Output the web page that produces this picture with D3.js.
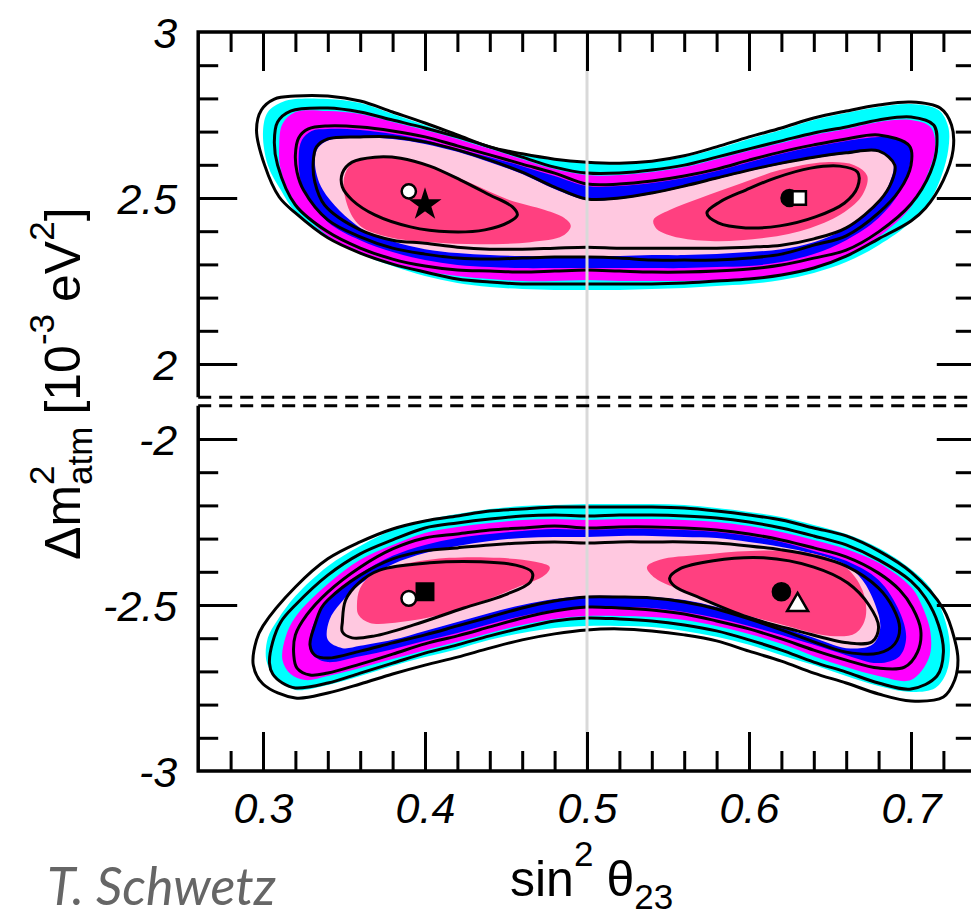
<!DOCTYPE html>
<html>
<head>
<meta charset="utf-8">
<script src="https://cdn.jsdelivr.net/npm/d3@7"></script>
<style>
  body { margin: 0; background: #fff; }
  svg { display: block; }
</style>
</head>
<body>
<svg width="971" height="917"></svg>
<script>
// ---- axis ticks ----
const xMajor = [0.3, 0.4, 0.5, 0.6, 0.7];
const xMinor = [0.28, 0.32, 0.34, 0.36, 0.38, 0.42, 0.44, 0.46, 0.48, 0.52, 0.54, 0.56, 0.58, 0.62, 0.64, 0.66, 0.68, 0.72];
const yTopMajor = [2.0, 2.5];
const yTopMinor = [2.1, 2.2, 2.3, 2.4, 2.6, 2.7, 2.8, 2.9];
const yTopLabels = [2.0, 2.5, 3.0];
const yBotMajor = [-2.0, -2.5];
const yBotMinor = [-2.1, -2.2, -2.3, -2.4, -2.6, -2.7, -2.8, -2.9];
const yBotLabels = [-2.0, -2.5, -3.0];

// ---- normal ordering (upper panel), [sin^2 theta23, dm2 in 1e-3 eV^2] ----
const topCyan = [[0.300,2.699],[0.303,2.759],[0.312,2.789],[0.32,2.798],[0.34,2.798],[0.36,2.786],[0.38,2.753],[0.40,2.720],[0.42,2.684],[0.44,2.651],[0.46,2.630],[0.48,2.614],[0.50,2.605],[0.52,2.602],[0.54,2.608],[0.56,2.623],[0.58,2.648],[0.60,2.678],[0.62,2.705],[0.64,2.735],[0.66,2.756],[0.68,2.774],[0.70,2.783],[0.717,2.765],[0.723,2.714],[0.723,2.645],[0.719,2.569],[0.712,2.494],[0.70,2.428],[0.68,2.358],[0.66,2.307],[0.64,2.274],[0.62,2.253],[0.60,2.241],[0.58,2.235],[0.56,2.229],[0.54,2.226],[0.52,2.223],[0.50,2.223],[0.48,2.223],[0.46,2.226],[0.44,2.232],[0.42,2.244],[0.40,2.265],[0.38,2.295],[0.36,2.331],[0.34,2.383],[0.32,2.458],[0.311,2.524],[0.303,2.599]];
const topMagenta = [[0.310,2.660],[0.312,2.723],[0.32,2.759],[0.34,2.762],[0.36,2.753],[0.38,2.729],[0.40,2.705],[0.42,2.678],[0.44,2.648],[0.46,2.617],[0.48,2.587],[0.50,2.569],[0.52,2.569],[0.54,2.578],[0.56,2.593],[0.58,2.617],[0.60,2.642],[0.62,2.666],[0.64,2.690],[0.66,2.708],[0.68,2.729],[0.70,2.735],[0.712,2.714],[0.715,2.657],[0.710,2.569],[0.70,2.473],[0.68,2.383],[0.66,2.325],[0.64,2.292],[0.62,2.271],[0.60,2.259],[0.58,2.253],[0.56,2.250],[0.54,2.250],[0.52,2.250],[0.50,2.253],[0.48,2.250],[0.46,2.250],[0.44,2.256],[0.42,2.265],[0.40,2.280],[0.38,2.304],[0.36,2.337],[0.34,2.386],[0.32,2.485],[0.311,2.584]];
const topBlue = [[0.322,2.623],[0.324,2.675],[0.330,2.702],[0.34,2.708],[0.36,2.705],[0.38,2.693],[0.40,2.675],[0.42,2.648],[0.44,2.623],[0.46,2.596],[0.48,2.566],[0.50,2.536],[0.52,2.536],[0.54,2.545],[0.56,2.560],[0.58,2.581],[0.60,2.608],[0.62,2.633],[0.64,2.654],[0.66,2.672],[0.68,2.684],[0.690,2.681],[0.699,2.651],[0.699,2.593],[0.693,2.518],[0.68,2.440],[0.66,2.373],[0.64,2.331],[0.62,2.307],[0.60,2.295],[0.58,2.292],[0.56,2.289],[0.54,2.289],[0.52,2.289],[0.50,2.289],[0.48,2.289],[0.46,2.289],[0.44,2.292],[0.42,2.298],[0.40,2.313],[0.38,2.337],[0.36,2.373],[0.34,2.428],[0.325,2.524]];
const topPink = [[0.332,2.608],[0.334,2.651],[0.341,2.675],[0.36,2.681],[0.38,2.678],[0.40,2.663],[0.42,2.639],[0.44,2.608],[0.46,2.572],[0.48,2.527],[0.50,2.494],[0.52,2.497],[0.54,2.512],[0.56,2.533],[0.58,2.557],[0.60,2.581],[0.62,2.602],[0.64,2.620],[0.66,2.633],[0.68,2.639],[0.689,2.605],[0.687,2.548],[0.680,2.488],[0.66,2.410],[0.64,2.367],[0.62,2.346],[0.60,2.337],[0.58,2.331],[0.56,2.328],[0.54,2.328],[0.52,2.325],[0.50,2.325],[0.48,2.325],[0.46,2.325],[0.44,2.328],[0.42,2.334],[0.40,2.346],[0.38,2.370],[0.36,2.410],[0.337,2.524]];
const topRedL = [[0.350,2.560],[0.355,2.605],[0.369,2.623],[0.385,2.620],[0.406,2.590],[0.428,2.545],[0.452,2.494],[0.474,2.464],[0.486,2.440],[0.490,2.416],[0.485,2.386],[0.465,2.367],[0.434,2.361],[0.403,2.367],[0.378,2.382],[0.360,2.416],[0.352,2.479]];
const topRedR = [[0.541,2.434],[0.551,2.464],[0.570,2.500],[0.594,2.542],[0.619,2.584],[0.647,2.608],[0.665,2.599],[0.673,2.566],[0.670,2.509],[0.659,2.458],[0.638,2.410],[0.610,2.380],[0.579,2.370],[0.557,2.380],[0.543,2.407]];
const topLine1 = [[0.296,2.705],[0.299,2.765],[0.307,2.798],[0.32,2.807],[0.34,2.807],[0.36,2.792],[0.38,2.759],[0.40,2.726],[0.42,2.690],[0.44,2.654],[0.46,2.633],[0.48,2.617],[0.50,2.608],[0.52,2.605],[0.54,2.611],[0.56,2.627],[0.58,2.654],[0.60,2.684],[0.62,2.711],[0.64,2.741],[0.66,2.762],[0.68,2.780],[0.70,2.789],[0.718,2.771],[0.725,2.720],[0.726,2.645],[0.720,2.554],[0.709,2.470],[0.70,2.431],[0.68,2.377],[0.66,2.325],[0.64,2.289],[0.62,2.268],[0.60,2.256],[0.58,2.250],[0.56,2.244],[0.54,2.241],[0.52,2.241],[0.50,2.241],[0.48,2.241],[0.46,2.241],[0.44,2.247],[0.42,2.256],[0.40,2.277],[0.38,2.301],[0.36,2.334],[0.34,2.380],[0.32,2.455],[0.310,2.503],[0.301,2.599]];
const topLine2 = [[0.307,2.669],[0.309,2.729],[0.317,2.762],[0.34,2.771],[0.36,2.759],[0.38,2.735],[0.40,2.711],[0.42,2.684],[0.44,2.654],[0.46,2.623],[0.48,2.593],[0.50,2.575],[0.52,2.575],[0.54,2.584],[0.56,2.599],[0.58,2.623],[0.60,2.648],[0.62,2.672],[0.64,2.696],[0.66,2.714],[0.68,2.735],[0.70,2.744],[0.714,2.720],[0.716,2.660],[0.712,2.578],[0.70,2.482],[0.68,2.398],[0.66,2.343],[0.64,2.319],[0.62,2.298],[0.60,2.286],[0.58,2.280],[0.56,2.277],[0.54,2.277],[0.52,2.280],[0.50,2.283],[0.48,2.280],[0.46,2.277],[0.44,2.280],[0.42,2.283],[0.40,2.295],[0.38,2.316],[0.36,2.349],[0.34,2.398],[0.32,2.479],[0.309,2.599]];
const topLine3 = [[0.320,2.630],[0.322,2.681],[0.328,2.708],[0.34,2.717],[0.36,2.714],[0.38,2.702],[0.40,2.684],[0.42,2.657],[0.44,2.630],[0.46,2.602],[0.48,2.575],[0.50,2.542],[0.52,2.542],[0.54,2.551],[0.56,2.566],[0.58,2.587],[0.60,2.614],[0.62,2.639],[0.64,2.660],[0.66,2.678],[0.68,2.690],[0.699,2.657],[0.700,2.599],[0.693,2.524],[0.68,2.455],[0.66,2.386],[0.64,2.358],[0.62,2.331],[0.60,2.319],[0.58,2.313],[0.56,2.313],[0.54,2.313],[0.52,2.319],[0.50,2.322],[0.48,2.322],[0.46,2.319],[0.44,2.316],[0.42,2.319],[0.40,2.331],[0.38,2.349],[0.36,2.383],[0.34,2.434],[0.325,2.524],[0.321,2.578]];
const topLine4 = [[0.331,2.608],[0.333,2.654],[0.340,2.678],[0.36,2.684],[0.38,2.684],[0.40,2.669],[0.42,2.645],[0.44,2.614],[0.46,2.578],[0.48,2.533],[0.50,2.497],[0.52,2.500],[0.54,2.515],[0.56,2.536],[0.58,2.560],[0.60,2.584],[0.62,2.605],[0.64,2.623],[0.66,2.636],[0.68,2.642],[0.690,2.599],[0.688,2.548],[0.681,2.494],[0.66,2.410],[0.64,2.377],[0.62,2.358],[0.60,2.352],[0.58,2.349],[0.56,2.349],[0.54,2.349],[0.52,2.349],[0.50,2.352],[0.48,2.349],[0.46,2.346],[0.44,2.346],[0.42,2.352],[0.40,2.364],[0.38,2.373],[0.36,2.404],[0.338,2.479],[0.332,2.548]];
const topIslandL = [[0.349,2.575],[0.355,2.608],[0.369,2.623],[0.385,2.620],[0.403,2.596],[0.422,2.554],[0.440,2.509],[0.454,2.473],[0.457,2.449],[0.452,2.428],[0.437,2.404],[0.415,2.398],[0.391,2.413],[0.369,2.449],[0.355,2.494],[0.349,2.533]];
const topIslandR = [[0.574,2.455],[0.582,2.488],[0.598,2.524],[0.616,2.560],[0.638,2.590],[0.656,2.596],[0.667,2.578],[0.667,2.533],[0.659,2.485],[0.641,2.443],[0.619,2.416],[0.598,2.410],[0.581,2.425]];
const topPoints = [[0.39, 2.52], [0.40, 2.48], [0.625, 2.50], [0.631, 2.50]];

// ---- inverted ordering (lower panel) ----
const botCyan = [[0.302,-2.666],[0.303,-2.599],[0.309,-2.545],[0.32,-2.473],[0.34,-2.383],[0.36,-2.322],[0.38,-2.274],[0.40,-2.244],[0.42,-2.226],[0.44,-2.211],[0.46,-2.202],[0.48,-2.199],[0.50,-2.196],[0.52,-2.196],[0.54,-2.196],[0.56,-2.199],[0.58,-2.208],[0.60,-2.220],[0.62,-2.235],[0.64,-2.259],[0.66,-2.286],[0.68,-2.328],[0.70,-2.392],[0.712,-2.449],[0.720,-2.530],[0.724,-2.620],[0.722,-2.702],[0.715,-2.750],[0.70,-2.762],[0.68,-2.744],[0.66,-2.714],[0.64,-2.681],[0.62,-2.651],[0.60,-2.620],[0.58,-2.596],[0.56,-2.578],[0.54,-2.566],[0.52,-2.563],[0.50,-2.563],[0.48,-2.569],[0.46,-2.584],[0.44,-2.605],[0.42,-2.633],[0.40,-2.657],[0.38,-2.684],[0.36,-2.714],[0.34,-2.741],[0.32,-2.756],[0.314,-2.738],[0.306,-2.708]];
const botMagenta = [[0.312,-2.666],[0.314,-2.596],[0.32,-2.536],[0.34,-2.437],[0.36,-2.364],[0.38,-2.319],[0.40,-2.283],[0.42,-2.265],[0.44,-2.253],[0.46,-2.244],[0.48,-2.241],[0.50,-2.244],[0.52,-2.241],[0.54,-2.241],[0.56,-2.244],[0.58,-2.250],[0.60,-2.262],[0.62,-2.280],[0.64,-2.304],[0.66,-2.331],[0.68,-2.373],[0.70,-2.446],[0.706,-2.494],[0.712,-2.581],[0.711,-2.660],[0.70,-2.726],[0.68,-2.714],[0.66,-2.687],[0.64,-2.654],[0.62,-2.617],[0.60,-2.587],[0.58,-2.563],[0.56,-2.545],[0.54,-2.536],[0.52,-2.533],[0.50,-2.533],[0.48,-2.542],[0.46,-2.560],[0.44,-2.584],[0.42,-2.611],[0.40,-2.636],[0.38,-2.663],[0.36,-2.690],[0.34,-2.714],[0.326,-2.726],[0.317,-2.708]];
const botBlue = [[0.329,-2.636],[0.330,-2.575],[0.335,-2.521],[0.34,-2.485],[0.36,-2.407],[0.38,-2.352],[0.40,-2.319],[0.42,-2.298],[0.44,-2.286],[0.46,-2.277],[0.48,-2.271],[0.50,-2.274],[0.52,-2.271],[0.54,-2.271],[0.56,-2.274],[0.58,-2.280],[0.60,-2.292],[0.62,-2.310],[0.64,-2.337],[0.66,-2.367],[0.68,-2.425],[0.693,-2.521],[0.697,-2.599],[0.693,-2.654],[0.68,-2.675],[0.66,-2.651],[0.64,-2.620],[0.62,-2.590],[0.60,-2.563],[0.58,-2.539],[0.56,-2.521],[0.54,-2.509],[0.52,-2.506],[0.50,-2.506],[0.48,-2.515],[0.46,-2.533],[0.44,-2.557],[0.42,-2.584],[0.40,-2.608],[0.38,-2.633],[0.36,-2.654],[0.34,-2.672],[0.333,-2.660]];
const botPink = [[0.340,-2.605],[0.341,-2.545],[0.348,-2.494],[0.36,-2.437],[0.38,-2.377],[0.40,-2.343],[0.42,-2.322],[0.44,-2.307],[0.46,-2.298],[0.48,-2.295],[0.50,-2.295],[0.52,-2.292],[0.54,-2.292],[0.56,-2.295],[0.58,-2.298],[0.60,-2.310],[0.62,-2.325],[0.64,-2.346],[0.66,-2.380],[0.670,-2.425],[0.678,-2.500],[0.681,-2.569],[0.676,-2.620],[0.66,-2.630],[0.64,-2.599],[0.62,-2.566],[0.60,-2.533],[0.58,-2.506],[0.56,-2.485],[0.54,-2.476],[0.52,-2.473],[0.50,-2.473],[0.48,-2.482],[0.46,-2.500],[0.44,-2.524],[0.42,-2.551],[0.40,-2.578],[0.38,-2.605],[0.36,-2.623],[0.349,-2.630]];
const botRedL = [[0.358,-2.500],[0.360,-2.449],[0.369,-2.401],[0.391,-2.373],[0.415,-2.358],[0.446,-2.358],[0.468,-2.370],[0.477,-2.386],[0.474,-2.410],[0.456,-2.449],[0.434,-2.491],[0.409,-2.530],[0.385,-2.551],[0.366,-2.554],[0.359,-2.530]];
const botRedR = [[0.537,-2.386],[0.545,-2.364],[0.570,-2.349],[0.601,-2.337],[0.638,-2.343],[0.659,-2.383],[0.670,-2.455],[0.672,-2.536],[0.666,-2.584],[0.650,-2.593],[0.619,-2.557],[0.588,-2.515],[0.561,-2.461],[0.542,-2.419]];
const botLine1 = [[0.294,-2.681],[0.296,-2.605],[0.30,-2.563],[0.32,-2.446],[0.34,-2.361],[0.36,-2.310],[0.38,-2.271],[0.40,-2.247],[0.42,-2.232],[0.44,-2.217],[0.46,-2.211],[0.48,-2.205],[0.50,-2.205],[0.52,-2.205],[0.54,-2.205],[0.56,-2.208],[0.58,-2.217],[0.60,-2.229],[0.62,-2.244],[0.64,-2.268],[0.66,-2.292],[0.68,-2.337],[0.70,-2.401],[0.72,-2.512],[0.727,-2.605],[0.729,-2.666],[0.727,-2.726],[0.72,-2.777],[0.70,-2.789],[0.68,-2.768],[0.66,-2.735],[0.64,-2.705],[0.62,-2.669],[0.60,-2.639],[0.58,-2.608],[0.56,-2.590],[0.54,-2.578],[0.52,-2.572],[0.50,-2.575],[0.48,-2.587],[0.46,-2.605],[0.44,-2.630],[0.42,-2.657],[0.40,-2.681],[0.38,-2.708],[0.36,-2.738],[0.34,-2.765],[0.32,-2.780],[0.30,-2.738]];
const botLine2 = [[0.304,-2.675],[0.306,-2.611],[0.311,-2.551],[0.32,-2.500],[0.34,-2.410],[0.36,-2.346],[0.38,-2.304],[0.40,-2.268],[0.42,-2.253],[0.44,-2.241],[0.46,-2.232],[0.48,-2.229],[0.50,-2.232],[0.52,-2.229],[0.54,-2.229],[0.56,-2.232],[0.58,-2.238],[0.60,-2.250],[0.62,-2.268],[0.64,-2.292],[0.66,-2.319],[0.68,-2.364],[0.70,-2.428],[0.709,-2.479],[0.717,-2.560],[0.720,-2.642],[0.716,-2.714],[0.70,-2.753],[0.68,-2.735],[0.66,-2.702],[0.64,-2.672],[0.62,-2.636],[0.60,-2.605],[0.58,-2.578],[0.56,-2.560],[0.54,-2.548],[0.52,-2.542],[0.50,-2.539],[0.48,-2.548],[0.46,-2.569],[0.44,-2.593],[0.42,-2.620],[0.40,-2.645],[0.38,-2.675],[0.36,-2.705],[0.34,-2.735],[0.32,-2.750],[0.312,-2.735],[0.306,-2.708]];
const botLine3 = [[0.319,-2.651],[0.320,-2.590],[0.327,-2.530],[0.34,-2.461],[0.36,-2.386],[0.38,-2.331],[0.40,-2.298],[0.42,-2.286],[0.44,-2.274],[0.46,-2.268],[0.48,-2.262],[0.50,-2.268],[0.52,-2.265],[0.54,-2.265],[0.56,-2.268],[0.58,-2.274],[0.60,-2.286],[0.62,-2.304],[0.64,-2.328],[0.66,-2.355],[0.68,-2.404],[0.693,-2.455],[0.701,-2.509],[0.706,-2.575],[0.704,-2.642],[0.696,-2.687],[0.68,-2.690],[0.66,-2.666],[0.64,-2.636],[0.62,-2.602],[0.60,-2.572],[0.58,-2.548],[0.56,-2.527],[0.54,-2.515],[0.52,-2.509],[0.50,-2.506],[0.48,-2.518],[0.46,-2.539],[0.44,-2.566],[0.42,-2.593],[0.40,-2.617],[0.38,-2.648],[0.36,-2.678],[0.34,-2.705],[0.329,-2.711],[0.321,-2.690]];
const botLine4 = [[0.329,-2.620],[0.332,-2.560],[0.336,-2.509],[0.34,-2.485],[0.36,-2.410],[0.38,-2.361],[0.40,-2.337],[0.42,-2.328],[0.44,-2.319],[0.46,-2.313],[0.48,-2.310],[0.50,-2.313],[0.52,-2.310],[0.54,-2.310],[0.56,-2.310],[0.58,-2.313],[0.60,-2.322],[0.62,-2.334],[0.64,-2.352],[0.66,-2.383],[0.68,-2.449],[0.689,-2.509],[0.693,-2.569],[0.690,-2.617],[0.680,-2.645],[0.66,-2.642],[0.64,-2.611],[0.62,-2.575],[0.60,-2.542],[0.58,-2.512],[0.56,-2.491],[0.54,-2.479],[0.52,-2.476],[0.50,-2.476],[0.48,-2.488],[0.46,-2.509],[0.44,-2.536],[0.42,-2.563],[0.40,-2.590],[0.38,-2.614],[0.36,-2.639],[0.34,-2.660],[0.332,-2.651]];
const botIslandL = [[0.349,-2.551],[0.351,-2.485],[0.359,-2.434],[0.372,-2.395],[0.403,-2.373],[0.434,-2.370],[0.456,-2.380],[0.466,-2.401],[0.465,-2.431],[0.449,-2.470],[0.424,-2.509],[0.393,-2.560],[0.369,-2.593],[0.355,-2.599],[0.349,-2.581]];
const botIslandR = [[0.551,-2.419],[0.557,-2.392],[0.578,-2.367],[0.609,-2.358],[0.640,-2.386],[0.661,-2.434],[0.674,-2.500],[0.680,-2.566],[0.676,-2.611],[0.661,-2.614],[0.630,-2.578],[0.599,-2.536],[0.570,-2.479],[0.554,-2.443]];
const botPoints = [[0.39, -2.48], [0.40, -2.46], [0.62, -2.46], [0.63, -2.50]];

// ---- drawing ----
const svg = d3.select("svg");
const left = 198.2, right = 975.8;

const x = d3.scaleLinear().domain([0.26, 0.74]).range([left, right]);
const yTop = d3.scaleLinear().domain([1.9, 3.0]).range([397.2, 32]);
const yBot = d3.scaleLinear().domain([-3.0, -1.9]).range([771, 405.8]);

const CYAN = "#00ffff", MAGENTA = "#ff00ff", BLUE = "#0000ff", PINK = "#ffc8e0", RED = "#ff4080";

function drawPanel(y, fills, lines) {
  const path = d3.line()
    .x(d => x(d[0]))
    .y(d => y(d[1]))
    .curve(d3.curveCatmullRomClosed.alpha(0.5));
  const g = svg.append("g");
  g.selectAll("path.fill")
    .data(fills)
    .join("path")
    .attr("class", "fill")
    .attr("d", d => path(d[0]))
    .attr("fill", d => d[1]);
  g.selectAll("path.cl")
    .data(lines)
    .join("path")
    .attr("class", "cl")
    .attr("d", d => path(d))
    .attr("fill", "none")
    .attr("stroke", "#000")
    .attr("stroke-width", 3);
}

drawPanel(yTop,
  [[topCyan, CYAN], [topMagenta, MAGENTA], [topBlue, BLUE], [topPink, PINK], [topRedL, RED], [topRedR, RED]],
  [topLine1, topLine2, topLine3, topLine4, topIslandL, topIslandR]);
drawPanel(yBot,
  [[botCyan, CYAN], [botMagenta, MAGENTA], [botBlue, BLUE], [botPink, PINK], [botRedL, RED], [botRedR, RED]],
  [botLine1, botLine2, botLine3, botLine4, botIslandL, botIslandR]);

// maximal mixing line
svg.append("line")
  .attr("x1", x(0.5)).attr("x2", x(0.5))
  .attr("y1", yTop(3.0)).attr("y2", yBot(-3.0))
  .attr("stroke", "#d9d9d9").attr("stroke-width", 3);

// best fit points
function mark(y, p, type, size, fill) {
  svg.append("path")
    .attr("transform", `translate(${x(p[0])},${y(p[1])})`)
    .attr("d", d3.symbol().type(type).size(size)())
    .attr("fill", fill)
    .attr("stroke", "#000")
    .attr("stroke-width", 2.5);
}
mark(yTop, topPoints[0], d3.symbolCircle, 160, "#fff");
mark(yTop, topPoints[1], d3.symbolStar, 200, "#000");
mark(yTop, topPoints[2], d3.symbolCircle, 200, "#000");
mark(yTop, topPoints[3], d3.symbolSquare, 180, "#fff");
mark(yBot, botPoints[0], d3.symbolCircle, 170, "#fff");
mark(yBot, botPoints[1], d3.symbolSquare, 270, "#000");
mark(yBot, botPoints[2], d3.symbolCircle, 230, "#000");
mark(yBot, botPoints[3], d3.symbolTriangle, 190, "#fff");

// ticks
function ticks(axis, tr, vals, size) {
  svg.append("g")
    .attr("transform", tr)
    .call(axis.tickValues(vals).tickSize(-size).tickSizeOuter(0).tickFormat(""))
    .call(g => g.select(".domain").remove())
    .selectAll("line")
    .attr("stroke", "#000")
    .attr("stroke-width", 3);
}
ticks(d3.axisTop(x), "translate(0,32)", xMajor, 39);
ticks(d3.axisTop(x), "translate(0,32)", xMinor, 20);
ticks(d3.axisBottom(x), "translate(0,771)", xMajor, 39);
ticks(d3.axisBottom(x), "translate(0,771)", xMinor, 20);
ticks(d3.axisLeft(yTop), `translate(${left},0)`, yTopMajor, 39);
ticks(d3.axisLeft(yTop), `translate(${left},0)`, yTopMinor, 20);
ticks(d3.axisRight(yTop), `translate(${right},0)`, yTopMajor, 39);
ticks(d3.axisRight(yTop), `translate(${right},0)`, yTopMinor, 20);
ticks(d3.axisLeft(yBot), `translate(${left},0)`, yBotMajor, 39);
ticks(d3.axisLeft(yBot), `translate(${left},0)`, yBotMinor, 20);
ticks(d3.axisRight(yBot), `translate(${right},0)`, yBotMajor, 39);
ticks(d3.axisRight(yBot), `translate(${right},0)`, yBotMinor, 20);

// frame
const frame = svg.append("g").attr("stroke", "#000").attr("stroke-width", 3.5).attr("fill", "none");
frame.append("path").attr("d", `M${left},${yTop(1.9)}V${yTop(3)}H${right}V${yTop(1.9)}`);
frame.append("path").attr("d", `M${left},${yBot(-1.9)}V${yBot(-3)}H${right}V${yBot(-1.9)}`);
frame.append("line").attr("x1", left).attr("x2", right).attr("y1", yTop(1.9)).attr("y2", yTop(1.9))
  .attr("stroke-width", 3).attr("stroke-dasharray", "13,8");
frame.append("line").attr("x1", left).attr("x2", right).attr("y1", yBot(-1.9)).attr("y2", yBot(-1.9))
  .attr("stroke-width", 3).attr("stroke-dasharray", "13,8");

// tick labels
function labels(axis, tr, vals, pad, dy) {
  svg.append("g")
    .attr("transform", tr)
    .call(axis.tickValues(vals).tickSize(0).tickPadding(pad).tickFormat(d => String(d)))
    .call(g => g.select(".domain").remove())
    .selectAll("text")
    .attr("font-family", "'Liberation Sans', Arial, sans-serif")
    .attr("font-style", "italic")
    .attr("font-size", 43)
    .attr("fill", "#000")
    .attr("dy", dy);
}
labels(d3.axisBottom(x), "translate(0,771)", xMajor, 21, "0.71em");
labels(d3.axisLeft(yTop), `translate(${left},0)`, yTopLabels, 21, "0.36em");
labels(d3.axisLeft(yBot), `translate(${left},0)`, yBotLabels, 21, "0.36em");

// axis titles with super/subscripts
function typeset(g, pieces) {
  let pos = 0, groupStart = 0, groupW = 0;
  pieces.forEach(p => {
    const start = p.stack ? groupStart : pos + (p.gap || 0);
    const t = g.append("text")
      .attr("x", start)
      .attr("y", p.dy || 0)
      .attr("font-size", p.size)
      .text(p.t);
    const w = t.node().getComputedTextLength();
    if (p.stack) {
      groupW = Math.max(groupW, w);
      pos = groupStart + groupW;
    } else {
      groupStart = start;
      groupW = w;
      pos = start + w;
    }
  });
}

const titleFont = "'Liberation Sans', Arial, sans-serif";
const xt = svg.append("g")
  .attr("transform", "translate(510,896)")
  .attr("font-family", titleFont)
  .attr("fill", "#000");
typeset(xt, [
  { t: "sin", size: 50 },
  { t: "2", size: 35, dy: -30 },
  { t: "θ", size: 50, gap: 13 },
  { t: "23", size: 35, dy: 13 }
]);

const yt = svg.append("g")
  .attr("transform", "translate(80,560) rotate(-90)")
  .attr("font-family", titleFont)
  .attr("fill", "#000");
typeset(yt, [
  { t: "Δm", size: 50 },
  { t: "2", size: 35, dy: -26 },
  { t: "atm", size: 35, dy: 12, stack: true },
  { t: "[10", size: 50, gap: 12 },
  { t: "-3", size: 35, dy: -26 },
  { t: "eV", size: 50, gap: 12 },
  { t: "2", size: 35, dy: -26 },
  { t: "]", size: 50 }
]);

svg.append("text")
  .attr("x", 47)
  .attr("y", 905)
  .attr("font-family", "Lato, 'Open Sans', sans-serif")
  .attr("font-style", "italic")
  .attr("font-size", 52)
  .attr("fill", "#666")
  .text("T. Schwetz");
</script>
</body>
</html>
